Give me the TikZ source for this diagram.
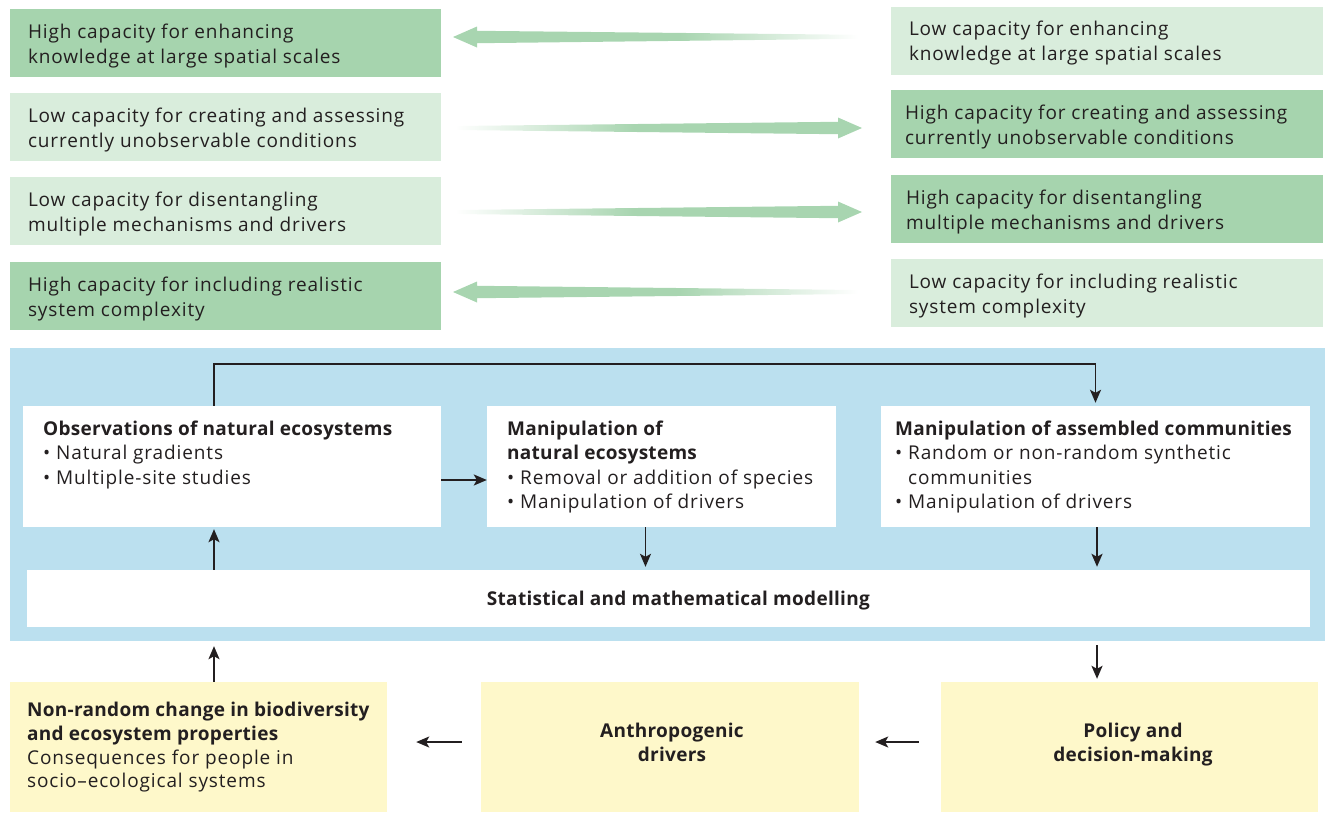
\documentclass[tikz,border=0pt]{standalone}
\usepackage{fontspec}
\setmainfont{Open Sans}[LetterSpace=4.6, BoldFeatures={LetterSpace=1.5}]
\usetikzlibrary{arrows.meta,calc}
\definecolor{dkgreen}{HTML}{A6D4AE}
\definecolor{ltgreen}{HTML}{D9EDDC}
\definecolor{panelblue}{HTML}{BBE0EF}
\definecolor{ylw}{HTML}{FEF8CA}
\definecolor{txt}{HTML}{231F20}
\definecolor{agreen}{HTML}{A8D5B0}
\pgfdeclarehorizontalshading{fadeR}{100bp}{color(0bp)=(white); color(25bp)=(white); color(47bp)=(agreen); color(100bp)=(agreen)}
\pgfdeclarehorizontalshading{fadeL}{100bp}{color(0bp)=(agreen); color(53bp)=(agreen); color(75bp)=(white); color(100bp)=(white)}
\tikzset{
  dbox/.style={rectangle, fill=dkgreen, inner sep=0pt, minimum width=#1, minimum height=68pt},
  lbox/.style={rectangle, fill=ltgreen, inner sep=0pt, minimum width=#1, minimum height=68pt},
  gtxt/.style={inner sep=0pt, anchor=base west, align=left, text=txt,
    font=\fontsize{19}{25}\selectfont},
  wbox/.style={rectangle, fill=white, inner sep=0pt},
  ybox/.style={rectangle, fill=ylw, inner sep=0pt},
  lbl/.style={inner sep=0pt, text=txt, font=\fontsize{19}{24.6}\selectfont},
  ylbl/.style={inner sep=0pt, text=txt, font=\fontsize{19}{23.8}\selectfont},
  conn/.style={line width=1.7pt, draw=txt, -{Stealth[length=13pt,width=11pt,inset=3pt]}}
}
\begin{document}
\begin{tikzpicture}[x=1pt,y=-1pt]
\useasboundingbox (0,0) rectangle (1329,812);
% ---- top comparison boxes (base anchor = baseline of last line) ----
\node[dbox=431pt] (l1) at (225.5,43) {};
\node[gtxt] (l1t) at ([xshift=18pt,yshift=14pt]l1.south west) {High capacity for enhancing\\knowledge at large spatial scales};
\node[lbox=431pt] (l2) at (225.5,127) {};
\node[gtxt] (l2t) at ([xshift=18pt,yshift=14pt]l2.south west) {Low capacity for creating and assessing\\currently unobservable conditions};
\node[lbox=431pt] (l3) at (225.5,211) {};
\node[gtxt] (l3t) at ([xshift=18pt,yshift=14pt]l3.south west) {Low capacity for disentangling\\multiple mechanisms and drivers};
\node[dbox=431pt] (l4) at (225.5,296) {};
\node[gtxt] (l4t) at ([xshift=18pt,yshift=14pt]l4.south west) {High capacity for including realistic\\system complexity};

\node[lbox=432pt] (r1) at (1107,40.5) {};
\node[gtxt] (r1t) at ([xshift=18pt,yshift=14pt]r1.south west) {Low capacity for enhancing\\knowledge at large spatial scales};
\node[dbox=432pt] (r2) at (1107,124) {};
\node[gtxt] (r2t) at ([xshift=14pt,yshift=14pt]r2.south west) {High capacity for creating and assessing\\currently unobservable conditions};
\node[dbox=432pt] (r3) at (1107,209) {};
\node[gtxt] (r3t) at ([xshift=15pt,yshift=14pt]r3.south west) {High capacity for disentangling\\multiple mechanisms and drivers};
\node[lbox=432pt] (r4) at (1107,293) {};
\node[gtxt] (r4t) at ([xshift=18pt,yshift=14pt]r4.south west) {Low capacity for including realistic\\system complexity};

% ---- green fading arrows ----
\shade[shading=fadeL] (453,37) -- (477,26.5) -- (477,30.8) -- (858,34.8) -- (858,38.8) -- (477,43.2) -- (477,47.5) -- cycle;
\shade[shading=fadeR] (862,128) -- (838,117.5) -- (838,121.8) -- (455,126) -- (455,130) -- (838,134.2) -- (838,138.5) -- cycle;
\shade[shading=fadeR] (862,212) -- (838,201.5) -- (838,205.8) -- (455,210) -- (455,214) -- (838,218.2) -- (838,222.5) -- cycle;
\shade[shading=fadeL] (453,292) -- (477,281.5) -- (477,285.8) -- (858,290) -- (858,294) -- (477,298.2) -- (477,302.5) -- cycle;

% ---- blue panel ----
\node[rectangle, fill=panelblue, inner sep=0pt, minimum width=1315pt, minimum height=293pt] (panel) at (667.5,494.5) {};
\node[wbox, minimum width=418pt, minimum height=121pt] (obs) at (232,466.5) {};
\node[wbox, minimum width=349pt, minimum height=121pt] (mnat) at (661.5,466.5) {};
\node[wbox, minimum width=429pt, minimum height=121pt] (assem) at (1095.5,466.5) {};
\node[wbox, minimum width=1283pt, minimum height=57pt] (stats) at (668.5,598.5) {};

\node[lbl, anchor=base west, align=left] (obst) at (43,484.2) {\textbf{Observations of natural ecosystems}\\• Natural gradients\\• Multiple-site studies};
\node[lbl, anchor=base west, align=left] (mnatt) at (507,508.8) {\textbf{Manipulation of}\\\textbf{natural ecosystems}\\• Removal or addition of species\\• Manipulation of drivers};
\node[lbl, anchor=base west, align=left] (assemt) at (895,508.8) {\textbf{Manipulation of assembled communities}\\• Random or non-random synthetic\\\phantom{• }communities\\• Manipulation of drivers};
\node[lbl, anchor=base, font=\bfseries\fontsize{19}{24.6}\selectfont] (statst) at (678.4,605) {Statistical and mathematical modelling};

% ---- panel connectors ----
\draw[conn, shorten >=3pt] ([xshift=-18pt]obs.north) -- ++(0,-42) -| (assem.north);
\draw[conn] ([yshift=-13.5pt]obs.east) -- ([yshift=-13.5pt]obs.east -| mnat.west);
\draw[conn, shorten >=2pt] ([xshift=-18pt]obs.south |- stats.north) -- ([xshift=-18pt]obs.south);
\draw[conn, shorten >=3pt] ([xshift=-16pt]mnat.south) -- ([xshift=-16pt]mnat.south |- stats.north);
\draw[conn, shorten >=3pt] ([xshift=1.5pt]assem.south) -- ([xshift=1.5pt]assem.south |- stats.north);

% ---- bottom yellow boxes ----
\node[ybox, minimum width=377pt, minimum height=130pt] (y1) at (198.5,747) {};
\node[ybox, minimum width=378pt, minimum height=130pt] (y2) at (670,747) {};
\node[ybox, minimum width=377pt, minimum height=130pt] (y3) at (1129.5,747) {};

\node[ylbl, anchor=base west, align=left] (y1t) at (27,787.9) {\textbf{Non-random change in biodiversity}\\\textbf{and ecosystem properties}\\Consequences for people in\\socio–ecological systems};
\node[ylbl, anchor=base, align=center, font=\bfseries\fontsize{19}{24.4}\selectfont] (y2t) at (672,761.7) {Anthropogenic\\drivers};
\node[ylbl, anchor=base, align=center, font=\bfseries\fontsize{19}{24.4}\selectfont] (y3t) at (1133,761.7) {Policy and\\decision-making};

% ---- bottom connectors ----
\draw[conn, shorten >=5pt] ([xshift=-18pt]obs.south |- y1.north) -- ([xshift=-18pt]obs.south |- panel.south);
\draw[conn, shorten <=4pt, shorten >=3pt] ([xshift=1.5pt]assem.south |- panel.south) -- ([xshift=1.5pt]assem.south |- y3.north);
\draw[conn, shorten <=19pt, shorten >=29pt] ([yshift=5pt]y2.west) -- ([yshift=5pt]y2.west -| y1.east);
\draw[conn, shorten <=22pt, shorten >=16pt] ([yshift=5pt]y3.west) -- ([yshift=5pt]y3.west -| y2.east);
\end{tikzpicture}
\end{document}
